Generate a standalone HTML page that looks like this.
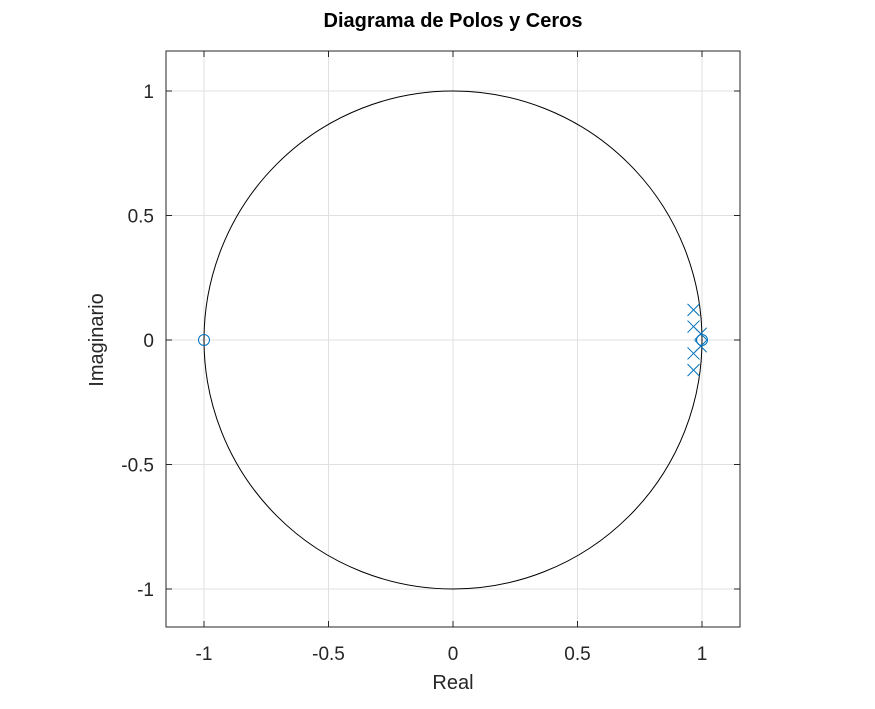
<!DOCTYPE html>
<html><head><meta charset="utf-8"><style>
body{margin:0;background:#fff;width:875px;height:704px;overflow:hidden;font-family:"Liberation Sans",sans-serif}
</style></head><body>
<svg id="chart" width="875" height="704" font-family="Liberation Sans, sans-serif">
<text x="453" y="27" text-anchor="middle" font-size="20" font-weight="bold">Diagrama de Polos y Ceros</text>
<g id="grid"></g>
<g id="marks"></g>
<rect x="166" y="51" width="574" height="576" fill="none" stroke="#262626" stroke-width="1"/>
<g id="ticks"></g>
<text x="453" y="689" text-anchor="middle" font-size="20" fill="#262626">Real</text>
<text transform="translate(103,340) rotate(-90)" text-anchor="middle" font-size="20" fill="#262626">Imaginario</text>
</svg>
<script>
const xTicks=[-1,-0.5,0,0.5,1];
const yTicks=[-1,-0.5,0,0.5,1];
const xTickLabels=["-1","-0.5","0","0.5","1"];
const yTickLabels=["-1","-0.5","0","0.5","1"];
const zerosRe=[-1,1];
const zerosIm=[0,0];
const polesRe=[0.966,0.966,0.995,0.995,0.966,0.966];
const polesIm=[0.121,0.054,0.025,-0.025,-0.054,-0.121];
const NS="http://www.w3.org/2000/svg";
const L=166,R=740,T=51,B=627;
const xs=v=>453+v*249, ys=v=>340-v*249;
function mk(t,a,p){const e=document.createElementNS(NS,t);for(const k in a)e.setAttribute(k,a[k]);p.appendChild(e);return e;}
const grid=document.getElementById('grid'),ticks=document.getElementById('ticks'),marks=document.getElementById('marks');
xTicks.forEach((v,i)=>{const x=xs(v);
 let g=mk('line',{x1:x,x2:x,y1:T,y2:B,stroke:'#e0e0e0'},grid);
 
 
 mk('line',{x1:x,x2:x,y1:B,y2:B-6,stroke:'#262626'},ticks);
 mk('line',{x1:x,x2:x,y1:T,y2:T+6,stroke:'#262626'},ticks);
 let t=mk('text',{x:x,y:B+33,'text-anchor':'middle','font-size':19,fill:'#262626'},ticks);t.textContent=xTickLabels[i];
 
 
});
yTicks.forEach((v,i)=>{const y=ys(v);
 let g=mk('line',{x1:L,x2:R,y1:y,y2:y,stroke:'#e0e0e0'},grid);
 
 
 mk('line',{x1:L,x2:L+6,y1:y,y2:y,stroke:'#262626'},ticks);
 mk('line',{x1:R,x2:R-6,y1:y,y2:y,stroke:'#262626'},ticks);
 let t=mk('text',{x:L-12,y:y+7,'text-anchor':'end','font-size':19,fill:'#262626'},ticks);t.textContent=yTickLabels[i];
 
 
});
let c=mk('circle',{cx:xs(0),cy:ys(0),r:249,fill:'none',stroke:'#000','stroke-width':1},marks);


zerosRe.forEach((re,i)=>{
 let z=mk('circle',{cx:xs(re),cy:ys(zerosIm[i]),r:5.5,fill:'none',stroke:'#0072bd','stroke-width':1},marks);
 
 
});
polesRe.forEach((re,i)=>{const x=xs(re),y=ys(polesIm[i]),s=6;
 let p=mk('path',{d:`M${x-s},${y-s}L${x+s},${y+s}M${x-s},${y+s}L${x+s},${y-s}`,stroke:'#0072bd','stroke-width':1,fill:'none'},marks);
 
 
});
</script>
</body></html>
